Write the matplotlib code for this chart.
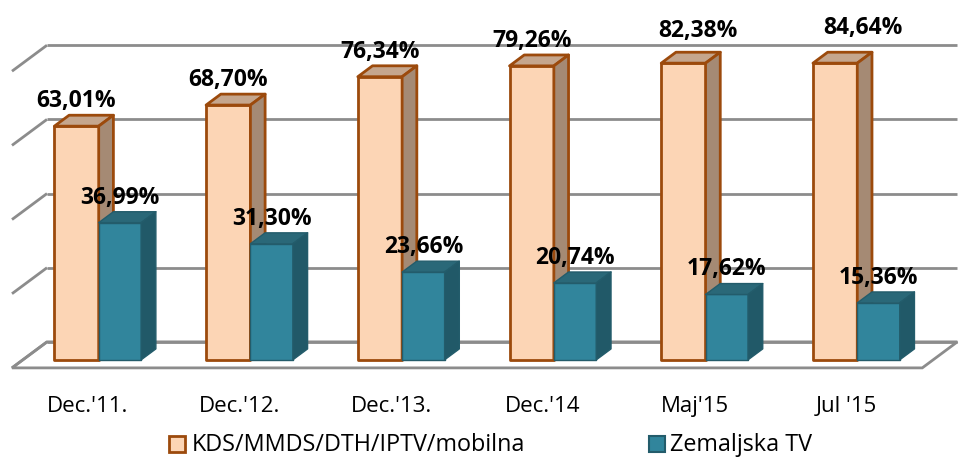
import matplotlib.pyplot as plt
from matplotlib.patches import Polygon, Rectangle

plt.rcParams['font.family'] = ['Open Sans', 'DejaVu Sans']

categories = ["Dec.'11.", "Dec.'12.", "Dec.'13.", "Dec.'14", "Maj'15", "Jul '15"]
kds = [63.01, 68.70, 76.34, 79.26, 82.38, 84.64]
zemaljska = [36.99, 31.30, 23.66, 20.74, 17.62, 15.36]
labels_kds = ['63,01%', '68,70%', '76,34%', '79,26%', '82,38%', '84,64%']
labels_zem = ['36,99%', '31,30%', '23,66%', '20,74%', '17,62%', '15,36%']
series_names = ['KDS/MMDS/DTH/IPTV/mobilna', 'Zemaljska TV']

y_max = 80
y_step = 20

# oblique projection: depth d in [0, 1] shifts right and up
DX, DY = 0.2307, 7.01
D_FRONT, D_BACK = 0.31, 0.73


def P(x, v, d):
    return (x + DX * d, v + DY * d)


fig = plt.figure(figsize=(9.59, 4.58), dpi=100)
ax = fig.add_axes([0, 0, 1, 1])
ax.set_xlim(-0.079, 6.242)
ax.set_ylim(-24.3, 99.2)
ax.axis('off')

n = len(categories)
grid_c = '#8c8c8c'

# floor
ax.add_patch(Polygon([P(0, 0, 0), P(n, 0, 0), P(n, 0, 1), P(0, 0, 1)],
                     closed=True, facecolor='white', edgecolor=grid_c, lw=2, zorder=1))
# gridlines on back wall + left side
for v in range(0, y_max + 1, y_step):
    xs, ys = zip(P(0, v, 1), P(n, v, 1))
    ax.plot(xs, ys, color=grid_c, lw=2, zorder=1.5, solid_capstyle='butt')
    xs, ys = zip(P(0, v, 0), P(0, v, 1))
    ax.plot(xs, ys, color=grid_c, lw=2, zorder=1.5, solid_capstyle='butt')


def bar3d(x0, x1, v, front, top, side, edge, lw, z):
    v = min(v, y_max)
    faces = [
        ([P(x0, 0, D_FRONT), P(x1, 0, D_FRONT), P(x1, v, D_FRONT), P(x0, v, D_FRONT)], front),
        ([P(x0, v, D_FRONT), P(x1, v, D_FRONT), P(x1, v, D_BACK), P(x0, v, D_BACK)], top),
        ([P(x1, 0, D_FRONT), P(x1, v, D_FRONT), P(x1, v, D_BACK), P(x1, 0, D_BACK)], side),
    ]
    for pts, fc in faces:
        ax.add_patch(Polygon(pts, closed=True, facecolor=fc, edgecolor=edge,
                             lw=lw, joinstyle='round', zorder=z))


def label_pos(xc, v):
    # bars above the axis max are cut; their labels drift up and right
    over = max(v - y_max, 0)
    vv = min(v, y_max)
    tx, _ = P(xc, 0, D_FRONT)
    return tx + 0.04 * over, vv + 7.3 + 1.3 * over ** 0.5


w_o, w_b = 0.292, 0.28
for i in range(n):
    c = i + 0.5
    bar3d(c - w_o, c, kds[i], '#FCD5B5', '#C5A68D', '#A58A74', '#9C4A0C', 2.0, 3 + 2 * i)
    bar3d(c, c + w_b, zemaljska[i], '#31859C', '#2A6878', '#215968', '#235C6B', 1.0, 4 + 2 * i)
    tx, ty = label_pos(c - w_o / 2, kds[i])
    ax.text(tx, ty, labels_kds[i], ha='center', va='baseline',
            fontsize=16.5, fontweight='bold', color='black', zorder=30)
    tx, ty = label_pos(c + w_b / 2, zemaljska[i])
    ax.text(tx, ty, labels_zem[i], ha='center', va='baseline',
            fontsize=16.5, fontweight='bold', color='black', zorder=30)
    ax.text(c, -11.9, categories[i], ha='center', va='baseline', fontsize=16, color='black')

# legend
fig.add_artist(Rectangle((169 / 959, 1 - 452 / 458), 16 / 959, 16 / 458,
                         transform=fig.transFigure, facecolor='#FCD5B5',
                         edgecolor='#9C4A0C', lw=2))
fig.text(192 / 959, 1 - 451 / 458, series_names[0], ha='left', va='baseline', fontsize=16.8)
fig.add_artist(Rectangle((649 / 959, 1 - 452 / 458), 16 / 959, 16 / 458,
                         transform=fig.transFigure, facecolor='#31859C',
                         edgecolor='#235C6B', lw=1.5))
fig.text(670 / 959, 1 - 451 / 458, series_names[1], ha='left', va='baseline', fontsize=16.8)

fig.savefig('out.png', dpi=100)
